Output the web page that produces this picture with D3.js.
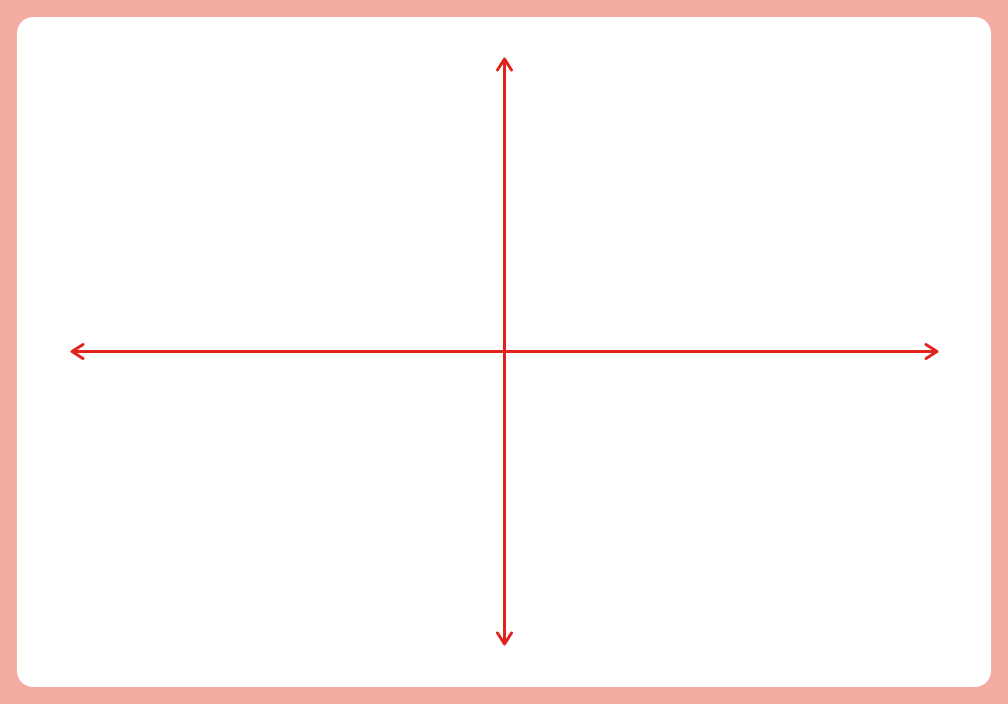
<!DOCTYPE html>
<html>
<head>
<meta charset="utf-8">
<script src="https://cdn.jsdelivr.net/npm/d3@7"></script>
<style>
  html, body { margin: 0; padding: 0; background: #f4aba2; }
  svg { display: block; }
</style>
</head>
<body>
<svg id="chart" width="1008" height="704"></svg>
<script>
// Data: a blank coordinate plane with symmetric axes
const xDomain = [-10, 10];
const yDomain = [-10, 10];
const axisOrigin = [0, 0];

const W = 1008, H = 704;
const svg = d3.select("#chart");

// page background and white card
svg.append("rect").attr("width", W).attr("height", H).attr("fill", "#f4aba2");
svg.append("rect")
  .attr("x", 17).attr("y", 17)
  .attr("width", 974).attr("height", 670)
  .attr("rx", 16).attr("ry", 16)
  .attr("fill", "#ffffff");

const x = d3.scaleLinear().domain(xDomain).range([72, 937]);
const y = d3.scaleLinear().domain(yDomain).range([644, 59]);

const red = "#e0231c";
const g = svg.append("g");

// axes
g.append("line")
  .attr("x1", x(xDomain[0])).attr("x2", x(xDomain[1]))
  .attr("y1", y(axisOrigin[1])).attr("y2", y(axisOrigin[1]))
  .attr("stroke", red).attr("stroke-width", 3);
g.append("line")
  .attr("x1", x(axisOrigin[0])).attr("x2", x(axisOrigin[0]))
  .attr("y1", y(yDomain[0])).attr("y2", y(yDomain[1]))
  .attr("stroke", red).attr("stroke-width", 3);

// chevron arrowheads
function chevron(tx, ty, angleDeg) {
  const a = angleDeg * Math.PI / 180;
  const back = 11, spread = 7;
  const bx = -Math.cos(a) * back, by = -Math.sin(a) * back;
  const px = -Math.sin(a) * spread, py = Math.cos(a) * spread;
  const p = d3.path();
  p.moveTo(tx + bx + px, ty + by + py);
  p.lineTo(tx, ty);
  p.lineTo(tx + bx - px, ty + by - py);
  g.append("path").attr("d", p.toString())
    .attr("fill", "none").attr("stroke", red)
    .attr("stroke-width", 3).attr("stroke-linecap", "round").attr("stroke-linejoin", "round");
}
const cy = y(axisOrigin[1]), cx = x(axisOrigin[0]);
chevron(x(xDomain[1]), cy, 0);
chevron(x(xDomain[0]), cy, 180);
chevron(cx, y(yDomain[1]), -90);
chevron(cx, y(yDomain[0]), 90);
</script>
</body>
</html>
